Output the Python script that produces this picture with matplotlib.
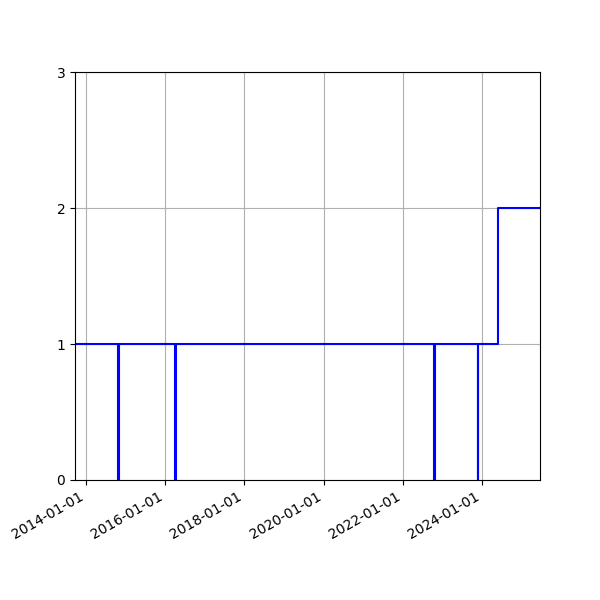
import matplotlib
matplotlib.use('Agg')
import matplotlib.pyplot as plt
import matplotlib.dates as mdates
import numpy as np

# step change dates and the value held from each date on
change_dates = ['2013-09-01', '2014-10-25', '2014-11-02', '2016-04-05', '2016-04-13',
                '2022-10-18', '2022-10-22', '2023-11-24', '2023-11-27', '2024-06-01',
                '2025-12-31']
change_values = [1, 0, 1, 0, 1, 0, 1, 0, 1, 2, 2]

x_start = '2013-09-22'
x_end = '2025-06-19'

dates = np.array(change_dates, dtype='datetime64[D]')

fig, ax = plt.subplots(figsize=(6, 6), dpi=100)
ax.plot(dates, change_values, drawstyle='steps-post', color='blue', linewidth=1.5)

ax.set_xlim(np.datetime64(x_start), np.datetime64(x_end))
ax.set_ylim(0, 3)
ax.set_yticks([0, 1, 2, 3])
ax.xaxis.set_major_locator(mdates.YearLocator(2))
ax.xaxis.set_major_formatter(mdates.DateFormatter('%Y-%m-%d'))
ax.grid(True)
fig.autofmt_xdate()

fig.savefig('out.png', dpi=100)
